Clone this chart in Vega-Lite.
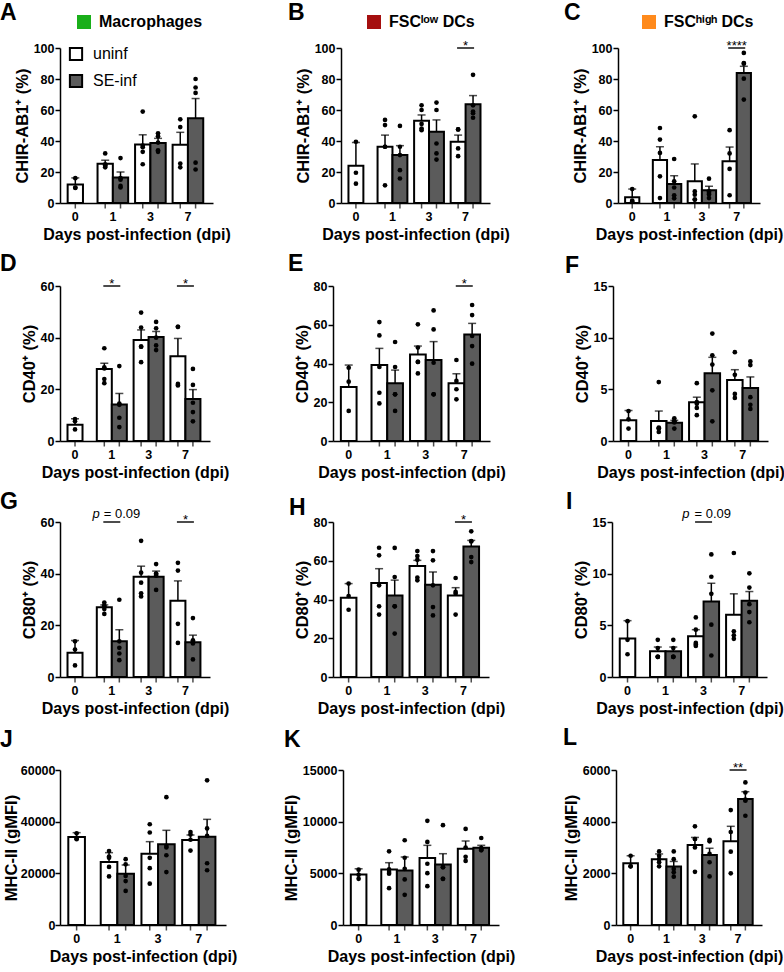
{
"$schema":"https://vega.github.io/schema/vega-lite/v6.json",
"padding":{"left":0,"top":2,"right":0,"bottom":0},
"datasets":{
"sig":[
{"panel":"B","day":"7","value":100,"label":"*"},
{"panel":"C","day":"7","value":100,"label":"****"},
{"panel":"D","day":"1","value":60,"label":"*"},
{"panel":"D","day":"7","value":60,"label":"*"},
{"panel":"E","day":"7","value":80,"label":"*"},
{"panel":"G","day":"1","value":60,"label":"= 0.09","prefix":"p"},
{"panel":"G","day":"7","value":60,"label":"*"},
{"panel":"H","day":"7","value":80,"label":"*"},
{"panel":"I","day":"3","value":15,"label":"= 0.09","prefix":"p"},
{"panel":"L","day":"7","value":6000,"label":"**"}
],
"obs":[
{"panel":"A","day":"0","group":"uninf","value":11.9,"upper":16.2},
{"panel":"A","day":"1","group":"uninf","value":25.3,"upper":27.6},
{"panel":"A","day":"1","group":"SE-inf","value":16.4,"upper":20},
{"panel":"A","day":"3","group":"uninf","value":37.8,"upper":44},
{"panel":"A","day":"3","group":"SE-inf","value":38.7,"upper":41.7},
{"panel":"A","day":"7","group":"uninf","value":37.6,"upper":45.6},
{"panel":"A","day":"7","group":"SE-inf","value":54.6,"upper":67.4},
{"panel":"A","day":"0","group":"uninf","value":16},{"panel":"A","day":"0","group":"uninf","value":10},{"panel":"A","day":"0","group":"uninf","value":9.7},
{"panel":"A","day":"1","group":"uninf","value":32},{"panel":"A","day":"1","group":"uninf","value":25},{"panel":"A","day":"1","group":"uninf","value":24},{"panel":"A","day":"1","group":"uninf","value":24},{"panel":"A","day":"1","group":"uninf","value":23},
{"panel":"A","day":"1","group":"SE-inf","value":29},{"panel":"A","day":"1","group":"SE-inf","value":16},{"panel":"A","day":"1","group":"SE-inf","value":15},{"panel":"A","day":"1","group":"SE-inf","value":11},{"panel":"A","day":"1","group":"SE-inf","value":10},
{"panel":"A","day":"3","group":"uninf","value":59},{"panel":"A","day":"3","group":"uninf","value":37},{"panel":"A","day":"3","group":"uninf","value":36},{"panel":"A","day":"3","group":"uninf","value":33},{"panel":"A","day":"3","group":"uninf","value":25},
{"panel":"A","day":"3","group":"SE-inf","value":45},{"panel":"A","day":"3","group":"SE-inf","value":43},{"panel":"A","day":"3","group":"SE-inf","value":39},{"panel":"A","day":"3","group":"SE-inf","value":34},{"panel":"A","day":"3","group":"SE-inf","value":33},
{"panel":"A","day":"7","group":"uninf","value":54},{"panel":"A","day":"7","group":"uninf","value":49},{"panel":"A","day":"7","group":"uninf","value":25.5},{"panel":"A","day":"7","group":"uninf","value":23},
{"panel":"A","day":"7","group":"SE-inf","value":80},{"panel":"A","day":"7","group":"SE-inf","value":74.5},{"panel":"A","day":"7","group":"SE-inf","value":71},{"panel":"A","day":"7","group":"SE-inf","value":26},{"panel":"A","day":"7","group":"SE-inf","value":21.6},

{"panel":"B","day":"0","group":"uninf","value":24,"upper":39},
{"panel":"B","day":"1","group":"uninf","value":36.3,"upper":43.8},
{"panel":"B","day":"1","group":"SE-inf","value":30.9,"upper":37},
{"panel":"B","day":"3","group":"uninf","value":53.1,"upper":56.8},
{"panel":"B","day":"3","group":"SE-inf","value":46,"upper":53.6},
{"panel":"B","day":"7","group":"uninf","value":39.5,"upper":43.8},
{"panel":"B","day":"7","group":"SE-inf","value":63.7,"upper":69.3},
{"panel":"B","day":"0","group":"uninf","value":39.5},{"panel":"B","day":"0","group":"uninf","value":19.5},{"panel":"B","day":"0","group":"uninf","value":12.5},
{"panel":"B","day":"1","group":"uninf","value":53.6},{"panel":"B","day":"1","group":"uninf","value":50.3},{"panel":"B","day":"1","group":"uninf","value":36.3},{"panel":"B","day":"1","group":"uninf","value":36.3},{"panel":"B","day":"1","group":"uninf","value":11.4},
{"panel":"B","day":"1","group":"SE-inf","value":49.7},{"panel":"B","day":"1","group":"SE-inf","value":36.3},{"panel":"B","day":"1","group":"SE-inf","value":30.9},{"panel":"B","day":"1","group":"SE-inf","value":21.2},{"panel":"B","day":"1","group":"SE-inf","value":15.8},
{"panel":"B","day":"3","group":"uninf","value":63},{"panel":"B","day":"3","group":"uninf","value":60},{"panel":"B","day":"3","group":"uninf","value":51},{"panel":"B","day":"3","group":"uninf","value":48},{"panel":"B","day":"3","group":"uninf","value":47},
{"panel":"B","day":"3","group":"SE-inf","value":64.8},{"panel":"B","day":"3","group":"SE-inf","value":60},{"panel":"B","day":"3","group":"SE-inf","value":38.4},{"panel":"B","day":"3","group":"SE-inf","value":32},{"panel":"B","day":"3","group":"SE-inf","value":28},
{"panel":"B","day":"7","group":"uninf","value":47.5},{"panel":"B","day":"7","group":"uninf","value":47.5},{"panel":"B","day":"7","group":"uninf","value":35.2},{"panel":"B","day":"7","group":"uninf","value":30.2},
{"panel":"B","day":"7","group":"SE-inf","value":82.7},{"panel":"B","day":"7","group":"SE-inf","value":63},{"panel":"B","day":"7","group":"SE-inf","value":59},{"panel":"B","day":"7","group":"SE-inf","value":57.9},{"panel":"B","day":"7","group":"SE-inf","value":55},

{"panel":"C","day":"0","group":"uninf","value":3.7,"upper":9},
{"panel":"C","day":"1","group":"uninf","value":27.7,"upper":36.3},
{"panel":"C","day":"1","group":"SE-inf","value":12.3,"upper":17.6},
{"panel":"C","day":"3","group":"uninf","value":14,"upper":25.2},
{"panel":"C","day":"3","group":"SE-inf","value":8.2,"upper":10.8},
{"panel":"C","day":"7","group":"uninf","value":26.9,"upper":36.1},
{"panel":"C","day":"7","group":"SE-inf","value":83.9,"upper":88.2},
{"panel":"C","day":"0","group":"uninf","value":9},{"panel":"C","day":"0","group":"uninf","value":1.5},{"panel":"C","day":"0","group":"uninf","value":1},
{"panel":"C","day":"1","group":"uninf","value":48.4},{"panel":"C","day":"1","group":"uninf","value":40.9},{"panel":"C","day":"1","group":"uninf","value":32.3},{"panel":"C","day":"1","group":"uninf","value":17.2},{"panel":"C","day":"1","group":"uninf","value":3.2},
{"panel":"C","day":"1","group":"SE-inf","value":28.4},{"panel":"C","day":"1","group":"SE-inf","value":14},{"panel":"C","day":"1","group":"SE-inf","value":10},{"panel":"C","day":"1","group":"SE-inf","value":5},{"panel":"C","day":"1","group":"SE-inf","value":3},
{"panel":"C","day":"3","group":"uninf","value":55.9},{"panel":"C","day":"3","group":"uninf","value":7.5},{"panel":"C","day":"3","group":"uninf","value":5.4},{"panel":"C","day":"3","group":"uninf","value":2.2},{"panel":"C","day":"3","group":"uninf","value":2.2},
{"panel":"C","day":"3","group":"SE-inf","value":15.7},{"panel":"C","day":"3","group":"SE-inf","value":7.5},{"panel":"C","day":"3","group":"SE-inf","value":6.5},{"panel":"C","day":"3","group":"SE-inf","value":5.5},{"panel":"C","day":"3","group":"SE-inf","value":3.2},
{"panel":"C","day":"7","group":"uninf","value":47},{"panel":"C","day":"7","group":"uninf","value":32},{"panel":"C","day":"7","group":"uninf","value":22},{"panel":"C","day":"7","group":"uninf","value":5},
{"panel":"C","day":"7","group":"SE-inf","value":96.8},{"panel":"C","day":"7","group":"SE-inf","value":90.3},{"panel":"C","day":"7","group":"SE-inf","value":89.9},{"panel":"C","day":"7","group":"SE-inf","value":80.2},{"panel":"C","day":"7","group":"SE-inf","value":66.7},

{"panel":"D","day":"0","group":"uninf","value":6.3,"upper":8.6},
{"panel":"D","day":"1","group":"uninf","value":27.9,"upper":30.1},
{"panel":"D","day":"1","group":"SE-inf","value":14.1,"upper":18.4},
{"panel":"D","day":"3","group":"uninf","value":39.1,"upper":43},
{"panel":"D","day":"3","group":"SE-inf","value":40.3,"upper":42.4},
{"panel":"D","day":"7","group":"uninf","value":32.8,"upper":39.7},
{"panel":"D","day":"7","group":"SE-inf","value":16.3,"upper":19.9},
{"panel":"D","day":"0","group":"uninf","value":8.5},{"panel":"D","day":"0","group":"uninf","value":7.6},{"panel":"D","day":"0","group":"uninf","value":4.5},
{"panel":"D","day":"1","group":"uninf","value":35.9},{"panel":"D","day":"1","group":"uninf","value":28.5},{"panel":"D","day":"1","group":"uninf","value":28.1},{"panel":"D","day":"1","group":"uninf","value":24},{"panel":"D","day":"1","group":"uninf","value":22.4},
{"panel":"D","day":"1","group":"SE-inf","value":29},{"panel":"D","day":"1","group":"SE-inf","value":14.5},{"panel":"D","day":"1","group":"SE-inf","value":14},{"panel":"D","day":"1","group":"SE-inf","value":9},{"panel":"D","day":"1","group":"SE-inf","value":5.4},
{"panel":"D","day":"3","group":"uninf","value":49.7},{"panel":"D","day":"3","group":"uninf","value":43.9},{"panel":"D","day":"3","group":"uninf","value":36.5},{"panel":"D","day":"3","group":"uninf","value":36.5},{"panel":"D","day":"3","group":"uninf","value":30.5},
{"panel":"D","day":"3","group":"SE-inf","value":46.1},{"panel":"D","day":"3","group":"SE-inf","value":43.6},{"panel":"D","day":"3","group":"SE-inf","value":40},{"panel":"D","day":"3","group":"SE-inf","value":37},{"panel":"D","day":"3","group":"SE-inf","value":35.2},
{"panel":"D","day":"7","group":"uninf","value":44.2},{"panel":"D","day":"7","group":"uninf","value":44.2},{"panel":"D","day":"7","group":"uninf","value":22.1},{"panel":"D","day":"7","group":"uninf","value":21.5},
{"panel":"D","day":"7","group":"SE-inf","value":27.9},{"panel":"D","day":"7","group":"SE-inf","value":21.7},{"panel":"D","day":"7","group":"SE-inf","value":14.8},{"panel":"D","day":"7","group":"SE-inf","value":11.2},{"panel":"D","day":"7","group":"SE-inf","value":7.6},

{"panel":"E","day":"0","group":"uninf","value":27.9,"upper":39.2},
{"panel":"E","day":"1","group":"uninf","value":39.2,"upper":47.8},
{"panel":"E","day":"1","group":"SE-inf","value":29.8,"upper":36.6},
{"panel":"E","day":"3","group":"uninf","value":44.7,"upper":49},
{"panel":"E","day":"3","group":"SE-inf","value":41.8,"upper":51.3},
{"panel":"E","day":"7","group":"uninf","value":29.8,"upper":34.7},
{"panel":"E","day":"7","group":"SE-inf","value":55,"upper":60.7},
{"panel":"E","day":"0","group":"uninf","value":37.8},{"panel":"E","day":"0","group":"uninf","value":30.6},{"panel":"E","day":"0","group":"uninf","value":15.5},
{"panel":"E","day":"1","group":"uninf","value":61.4},{"panel":"E","day":"1","group":"uninf","value":54.5},{"panel":"E","day":"1","group":"uninf","value":38.2},{"panel":"E","day":"1","group":"uninf","value":24.9},{"panel":"E","day":"1","group":"uninf","value":19.4},
{"panel":"E","day":"1","group":"SE-inf","value":51.1},{"panel":"E","day":"1","group":"SE-inf","value":38.2},{"panel":"E","day":"1","group":"SE-inf","value":24.1},{"panel":"E","day":"1","group":"SE-inf","value":24.1},{"panel":"E","day":"1","group":"SE-inf","value":15.5},
{"panel":"E","day":"3","group":"uninf","value":60.2},{"panel":"E","day":"3","group":"uninf","value":48.2},{"panel":"E","day":"3","group":"uninf","value":40.8},{"panel":"E","day":"3","group":"uninf","value":40.8},{"panel":"E","day":"3","group":"uninf","value":34.9},
{"panel":"E","day":"3","group":"SE-inf","value":67.4},{"panel":"E","day":"3","group":"SE-inf","value":57.6},{"panel":"E","day":"3","group":"SE-inf","value":40.4},{"panel":"E","day":"3","group":"SE-inf","value":24.1},{"panel":"E","day":"3","group":"SE-inf","value":24.1},
{"panel":"E","day":"7","group":"uninf","value":41.8},{"panel":"E","day":"7","group":"uninf","value":31},{"panel":"E","day":"7","group":"uninf","value":26.7},{"panel":"E","day":"7","group":"uninf","value":21.5},
{"panel":"E","day":"7","group":"SE-inf","value":70.2},{"panel":"E","day":"7","group":"SE-inf","value":65},{"panel":"E","day":"7","group":"SE-inf","value":54.2},{"panel":"E","day":"7","group":"SE-inf","value":49},{"panel":"E","day":"7","group":"SE-inf","value":39.9},

{"panel":"F","day":"0","group":"uninf","value":2.0,"upper":2.95},
{"panel":"F","day":"1","group":"uninf","value":1.93,"upper":2.9},
{"panel":"F","day":"1","group":"SE-inf","value":1.77,"upper":2.0},
{"panel":"F","day":"3","group":"uninf","value":3.76,"upper":4.24},
{"panel":"F","day":"3","group":"SE-inf","value":6.55,"upper":8.1},
{"panel":"F","day":"7","group":"uninf","value":5.9,"upper":6.9},
{"panel":"F","day":"7","group":"SE-inf","value":5.14,"upper":6.2},
{"panel":"F","day":"0","group":"uninf","value":2.9},{"panel":"F","day":"0","group":"uninf","value":2.1},{"panel":"F","day":"0","group":"uninf","value":1.2},
{"panel":"F","day":"1","group":"uninf","value":5.7},{"panel":"F","day":"1","group":"uninf","value":1.3},{"panel":"F","day":"1","group":"uninf","value":1.2},{"panel":"F","day":"1","group":"uninf","value":1.2},{"panel":"F","day":"1","group":"uninf","value":0.87},
{"panel":"F","day":"1","group":"SE-inf","value":2.2},{"panel":"F","day":"1","group":"SE-inf","value":1.9},{"panel":"F","day":"1","group":"SE-inf","value":1.9},{"panel":"F","day":"1","group":"SE-inf","value":1.8},{"panel":"F","day":"1","group":"SE-inf","value":1.2},
{"panel":"F","day":"3","group":"uninf","value":5.6},{"panel":"F","day":"3","group":"uninf","value":3.76},{"panel":"F","day":"3","group":"uninf","value":3.6},{"panel":"F","day":"3","group":"uninf","value":3.2},{"panel":"F","day":"3","group":"uninf","value":2.5},
{"panel":"F","day":"3","group":"SE-inf","value":10.4},{"panel":"F","day":"3","group":"SE-inf","value":8.3},{"panel":"F","day":"3","group":"SE-inf","value":7.4},{"panel":"F","day":"3","group":"SE-inf","value":4.9},{"panel":"F","day":"3","group":"SE-inf","value":1.9},
{"panel":"F","day":"7","group":"uninf","value":8.6},{"panel":"F","day":"7","group":"uninf","value":6.4},{"panel":"F","day":"7","group":"uninf","value":4.56},{"panel":"F","day":"7","group":"uninf","value":4.17},
{"panel":"F","day":"7","group":"SE-inf","value":7.7},{"panel":"F","day":"7","group":"SE-inf","value":7.35},{"panel":"F","day":"7","group":"SE-inf","value":4.24},{"panel":"F","day":"7","group":"SE-inf","value":3.5},{"panel":"F","day":"7","group":"SE-inf","value":3.1},

{"panel":"G","day":"0","group":"uninf","value":9.4,"upper":14.1},
{"panel":"G","day":"1","group":"uninf","value":27,"upper":27.9},
{"panel":"G","day":"1","group":"SE-inf","value":13.8,"upper":18.3},
{"panel":"G","day":"3","group":"uninf","value":38.8,"upper":42.9},
{"panel":"G","day":"3","group":"SE-inf","value":38.8,"upper":41},
{"panel":"G","day":"7","group":"uninf","value":29.5,"upper":37.2},
{"panel":"G","day":"7","group":"SE-inf","value":13.5,"upper":16.2},
{"panel":"G","day":"0","group":"uninf","value":13.8},{"panel":"G","day":"0","group":"uninf","value":10.6},{"panel":"G","day":"0","group":"uninf","value":4.5},
{"panel":"G","day":"1","group":"uninf","value":28.8},{"panel":"G","day":"1","group":"uninf","value":27.7},{"panel":"G","day":"1","group":"uninf","value":27.3},{"panel":"G","day":"1","group":"uninf","value":26.3},{"panel":"G","day":"1","group":"uninf","value":24.4},
{"panel":"G","day":"1","group":"SE-inf","value":29.9},{"panel":"G","day":"1","group":"SE-inf","value":13.8},{"panel":"G","day":"1","group":"SE-inf","value":11.3},{"panel":"G","day":"1","group":"SE-inf","value":9.1},{"panel":"G","day":"1","group":"SE-inf","value":6.5},
{"panel":"G","day":"3","group":"uninf","value":52.7},{"panel":"G","day":"3","group":"uninf","value":40.4},{"panel":"G","day":"3","group":"uninf","value":36.5},{"panel":"G","day":"3","group":"uninf","value":32.4},{"panel":"G","day":"3","group":"uninf","value":31.2},
{"panel":"G","day":"3","group":"SE-inf","value":43.7},{"panel":"G","day":"3","group":"SE-inf","value":40},{"panel":"G","day":"3","group":"SE-inf","value":39.9},{"panel":"G","day":"3","group":"SE-inf","value":39.2},{"panel":"G","day":"3","group":"SE-inf","value":33.7},
{"panel":"G","day":"7","group":"uninf","value":44.2},{"panel":"G","day":"7","group":"uninf","value":41.2},{"panel":"G","day":"7","group":"uninf","value":20.6},{"panel":"G","day":"7","group":"uninf","value":13.2},
{"panel":"G","day":"7","group":"SE-inf","value":22.8},{"panel":"G","day":"7","group":"SE-inf","value":14.2},{"panel":"G","day":"7","group":"SE-inf","value":13.6},{"panel":"G","day":"7","group":"SE-inf","value":13},{"panel":"G","day":"7","group":"SE-inf","value":6.8},

{"panel":"H","day":"0","group":"uninf","value":40.9,"upper":48.2},
{"panel":"H","day":"1","group":"uninf","value":48.5,"upper":55.9},
{"panel":"H","day":"1","group":"SE-inf","value":42.1,"upper":50},
{"panel":"H","day":"3","group":"uninf","value":57.3,"upper":60.2},
{"panel":"H","day":"3","group":"SE-inf","value":47.6,"upper":54.2},
{"panel":"H","day":"7","group":"uninf","value":42.1,"upper":46.1},
{"panel":"H","day":"7","group":"SE-inf","value":67.4,"upper":70.5},
{"panel":"H","day":"0","group":"uninf","value":48.2},{"panel":"H","day":"0","group":"uninf","value":41.8},{"panel":"H","day":"0","group":"uninf","value":34.7},
{"panel":"H","day":"1","group":"uninf","value":66.7},{"panel":"H","day":"1","group":"uninf","value":62.8},{"panel":"H","day":"1","group":"uninf","value":47.3},{"panel":"H","day":"1","group":"uninf","value":36.5},{"panel":"H","day":"1","group":"uninf","value":32.2},
{"panel":"H","day":"1","group":"SE-inf","value":66.6},{"panel":"H","day":"1","group":"SE-inf","value":51.6},{"panel":"H","day":"1","group":"SE-inf","value":36.5},{"panel":"H","day":"1","group":"SE-inf","value":36.5},{"panel":"H","day":"1","group":"SE-inf","value":22.4},
{"panel":"H","day":"3","group":"uninf","value":65},{"panel":"H","day":"3","group":"uninf","value":62.4},{"panel":"H","day":"3","group":"uninf","value":60.5},{"panel":"H","day":"3","group":"uninf","value":51.3},{"panel":"H","day":"3","group":"uninf","value":49.9},
{"panel":"H","day":"3","group":"SE-inf","value":65},{"panel":"H","day":"3","group":"SE-inf","value":60.2},{"panel":"H","day":"3","group":"SE-inf","value":47.3},{"panel":"H","day":"3","group":"SE-inf","value":36.1},{"panel":"H","day":"3","group":"SE-inf","value":31.8},
{"panel":"H","day":"7","group":"uninf","value":51.1},{"panel":"H","day":"7","group":"uninf","value":43.9},{"panel":"H","day":"7","group":"uninf","value":43},{"panel":"H","day":"7","group":"uninf","value":32.2},
{"panel":"H","day":"7","group":"SE-inf","value":75.2},{"panel":"H","day":"7","group":"SE-inf","value":70.2},{"panel":"H","day":"7","group":"SE-inf","value":70},{"panel":"H","day":"7","group":"SE-inf","value":61.9},{"panel":"H","day":"7","group":"SE-inf","value":59.3},

{"panel":"I","day":"0","group":"uninf","value":3.72,"upper":5.45},
{"panel":"I","day":"1","group":"uninf","value":2.5,"upper":2.9},
{"panel":"I","day":"1","group":"SE-inf","value":2.5,"upper":2.9},
{"panel":"I","day":"3","group":"uninf","value":3.94,"upper":4.58},
{"panel":"I","day":"3","group":"SE-inf","value":7.3,"upper":9.07},
{"panel":"I","day":"7","group":"uninf","value":6.03,"upper":8.05},
{"panel":"I","day":"7","group":"SE-inf","value":7.37,"upper":8.27},
{"panel":"I","day":"0","group":"uninf","value":5.4},{"panel":"I","day":"0","group":"uninf","value":3.6},{"panel":"I","day":"0","group":"uninf","value":2.2},
{"panel":"I","day":"1","group":"uninf","value":3.6},{"panel":"I","day":"1","group":"uninf","value":2.8},{"panel":"I","day":"1","group":"uninf","value":1.95},{"panel":"I","day":"1","group":"uninf","value":1.95},{"panel":"I","day":"1","group":"uninf","value":1.95},
{"panel":"I","day":"1","group":"SE-inf","value":3.6},{"panel":"I","day":"1","group":"SE-inf","value":2.8},{"panel":"I","day":"1","group":"SE-inf","value":1.95},{"panel":"I","day":"1","group":"SE-inf","value":1.95},{"panel":"I","day":"1","group":"SE-inf","value":1.95},
{"panel":"I","day":"3","group":"uninf","value":5.77},{"panel":"I","day":"3","group":"uninf","value":4.58},{"panel":"I","day":"3","group":"uninf","value":3.3},{"panel":"I","day":"3","group":"uninf","value":3.14},{"panel":"I","day":"3","group":"uninf","value":3.0},
{"panel":"I","day":"3","group":"SE-inf","value":11.86},{"panel":"I","day":"3","group":"SE-inf","value":9.7},{"panel":"I","day":"3","group":"SE-inf","value":8.05},{"panel":"I","day":"3","group":"SE-inf","value":5.06},{"panel":"I","day":"3","group":"SE-inf","value":2.08},
{"panel":"I","day":"7","group":"uninf","value":12},{"panel":"I","day":"7","group":"uninf","value":4.42},{"panel":"I","day":"7","group":"uninf","value":4.04},{"panel":"I","day":"7","group":"uninf","value":3.69},
{"panel":"I","day":"7","group":"SE-inf","value":10.03},{"panel":"I","day":"7","group":"SE-inf","value":8.65},{"panel":"I","day":"7","group":"SE-inf","value":7.05},{"panel":"I","day":"7","group":"SE-inf","value":6.28},{"panel":"I","day":"7","group":"SE-inf","value":5.3},

{"panel":"J","day":"0","group":"uninf","value":34070,"upper":35740},
{"panel":"J","day":"1","group":"uninf","value":24390,"upper":28000},
{"panel":"J","day":"1","group":"SE-inf","value":19870,"upper":23230},
{"panel":"J","day":"3","group":"uninf","value":27610,"upper":32260},
{"panel":"J","day":"3","group":"SE-inf","value":31230,"upper":36650},
{"panel":"J","day":"7","group":"uninf","value":32900,"upper":34840},
{"panel":"J","day":"7","group":"SE-inf","value":34190,"upper":40900},
{"panel":"J","day":"0","group":"uninf","value":35500},{"panel":"J","day":"0","group":"uninf","value":33500},{"panel":"J","day":"0","group":"uninf","value":33200},
{"panel":"J","day":"1","group":"uninf","value":28600},{"panel":"J","day":"1","group":"uninf","value":26500},{"panel":"J","day":"1","group":"uninf","value":26000},{"panel":"J","day":"1","group":"uninf","value":22500},{"panel":"J","day":"1","group":"uninf","value":18800},
{"panel":"J","day":"1","group":"SE-inf","value":25500},{"panel":"J","day":"1","group":"SE-inf","value":23500},{"panel":"J","day":"1","group":"SE-inf","value":19000},{"panel":"J","day":"1","group":"SE-inf","value":17000},{"panel":"J","day":"1","group":"SE-inf","value":13200},
{"panel":"J","day":"3","group":"uninf","value":39000},{"panel":"J","day":"3","group":"uninf","value":35800},{"panel":"J","day":"3","group":"uninf","value":26000},{"panel":"J","day":"3","group":"uninf","value":22000},{"panel":"J","day":"3","group":"uninf","value":16000},
{"panel":"J","day":"3","group":"SE-inf","value":49500},{"panel":"J","day":"3","group":"SE-inf","value":30600},{"panel":"J","day":"3","group":"SE-inf","value":30000},{"panel":"J","day":"3","group":"SE-inf","value":27000},{"panel":"J","day":"3","group":"SE-inf","value":20500},
{"panel":"J","day":"7","group":"uninf","value":36000},{"panel":"J","day":"7","group":"uninf","value":35000},{"panel":"J","day":"7","group":"uninf","value":33000},{"panel":"J","day":"7","group":"uninf","value":28800},
{"panel":"J","day":"7","group":"SE-inf","value":56000},{"panel":"J","day":"7","group":"SE-inf","value":37400},{"panel":"J","day":"7","group":"SE-inf","value":34500},{"panel":"J","day":"7","group":"SE-inf","value":23900},{"panel":"J","day":"7","group":"SE-inf","value":21200},

{"panel":"K","day":"0","group":"uninf","value":4890,"upper":5440},
{"panel":"K","day":"1","group":"uninf","value":5380,"upper":6030},
{"panel":"K","day":"1","group":"SE-inf","value":5280,"upper":6580},
{"panel":"K","day":"3","group":"uninf","value":6480,"upper":7710},
{"panel":"K","day":"3","group":"SE-inf","value":5860,"upper":6900},
{"panel":"K","day":"7","group":"uninf","value":7390,"upper":8130},
{"panel":"K","day":"7","group":"SE-inf","value":7480,"upper":7710},
{"panel":"K","day":"0","group":"uninf","value":5350},{"panel":"K","day":"0","group":"uninf","value":4860},{"panel":"K","day":"0","group":"uninf","value":4470},
{"panel":"K","day":"1","group":"uninf","value":7130},{"panel":"K","day":"1","group":"uninf","value":5380},{"panel":"K","day":"1","group":"uninf","value":5120},{"panel":"K","day":"1","group":"uninf","value":4960},{"panel":"K","day":"1","group":"uninf","value":3560},
{"panel":"K","day":"1","group":"SE-inf","value":8200},{"panel":"K","day":"1","group":"SE-inf","value":6510},{"panel":"K","day":"1","group":"SE-inf","value":5440},{"panel":"K","day":"1","group":"SE-inf","value":4410},{"panel":"K","day":"1","group":"SE-inf","value":2920},
{"panel":"K","day":"3","group":"uninf","value":10080},{"panel":"K","day":"3","group":"uninf","value":8040},{"panel":"K","day":"3","group":"uninf","value":5930},{"panel":"K","day":"3","group":"uninf","value":5020},{"panel":"K","day":"3","group":"uninf","value":3760},
{"panel":"K","day":"3","group":"SE-inf","value":9660},{"panel":"K","day":"3","group":"SE-inf","value":5600},{"panel":"K","day":"3","group":"SE-inf","value":5600},{"panel":"K","day":"3","group":"SE-inf","value":4470},{"panel":"K","day":"3","group":"SE-inf","value":4470},
{"panel":"K","day":"7","group":"uninf","value":9300},{"panel":"K","day":"7","group":"uninf","value":7500},{"panel":"K","day":"7","group":"uninf","value":6600},{"panel":"K","day":"7","group":"uninf","value":6200},
{"panel":"K","day":"7","group":"SE-inf","value":8420},{"panel":"K","day":"7","group":"SE-inf","value":7450},{"panel":"K","day":"7","group":"SE-inf","value":7390},{"panel":"K","day":"7","group":"SE-inf","value":7290},{"panel":"K","day":"7","group":"SE-inf","value":7230},

{"panel":"L","day":"0","group":"uninf","value":2390,"upper":2680},
{"panel":"L","day":"1","group":"uninf","value":2550,"upper":2750},
{"panel":"L","day":"1","group":"SE-inf","value":2260,"upper":2460},
{"panel":"L","day":"3","group":"uninf","value":3100,"upper":3390},
{"panel":"L","day":"3","group":"SE-inf","value":2710,"upper":2970},
{"panel":"L","day":"7","group":"uninf","value":3240,"upper":3820},
{"panel":"L","day":"7","group":"SE-inf","value":4880,"upper":5160},
{"panel":"L","day":"0","group":"uninf","value":2680},{"panel":"L","day":"0","group":"uninf","value":2270},{"panel":"L","day":"0","group":"uninf","value":2270},
{"panel":"L","day":"1","group":"uninf","value":2850},{"panel":"L","day":"1","group":"uninf","value":2680},{"panel":"L","day":"1","group":"uninf","value":2550},{"panel":"L","day":"1","group":"uninf","value":2430},{"panel":"L","day":"1","group":"uninf","value":2270},
{"panel":"L","day":"1","group":"SE-inf","value":2850},{"panel":"L","day":"1","group":"SE-inf","value":2550},{"panel":"L","day":"1","group":"SE-inf","value":2170},{"panel":"L","day":"1","group":"SE-inf","value":2040},{"panel":"L","day":"1","group":"SE-inf","value":1870},
{"panel":"L","day":"3","group":"uninf","value":3820},{"panel":"L","day":"3","group":"uninf","value":3330},{"panel":"L","day":"3","group":"uninf","value":3330},{"panel":"L","day":"3","group":"uninf","value":3000},{"panel":"L","day":"3","group":"uninf","value":2060},
{"panel":"L","day":"3","group":"SE-inf","value":3300},{"panel":"L","day":"3","group":"SE-inf","value":3240},{"panel":"L","day":"3","group":"SE-inf","value":2750},{"panel":"L","day":"3","group":"SE-inf","value":2430},{"panel":"L","day":"3","group":"SE-inf","value":1880},
{"panel":"L","day":"7","group":"uninf","value":4450},{"panel":"L","day":"7","group":"uninf","value":3600},{"panel":"L","day":"7","group":"uninf","value":2840},{"panel":"L","day":"7","group":"uninf","value":2000},
{"panel":"L","day":"7","group":"SE-inf","value":5520},{"panel":"L","day":"7","group":"SE-inf","value":5130},{"panel":"L","day":"7","group":"SE-inf","value":4850},{"panel":"L","day":"7","group":"SE-inf","value":4810},{"panel":"L","day":"7","group":"SE-inf","value":4230}
]},
"resolve":{"scale":{"fill":"independent","opacity":"independent","xOffset":"independent"},"legend":{"fill":"independent","opacity":"independent"}},
"columns":1,
"align":"none",
"spacing":10,
"concat":[
{"hconcat":[
{"width":153,"height":155,"title":{"text":"A","dx":-60,"offset":-11},"data":{"name":"obs"},"transform":[{"filter":"datum.panel=='A'"}],
"encoding":{"x":{"field":"day","type":"nominal","scale":{"domain":["0","1","3","7"],"paddingInner":0.184,"paddingOuter":0.13,"align":0},"axis":{"title":"Days post-infection (dpi)"}},
"y":{"field":"value","type":"quantitative","stack":null,"scale":{"domain":[0,100],"nice":false},"axis":{"values":[0,20,40,60,80,100],"title":"CHIR-AB1⁺ (%)"}}},
"layer":[
{"transform":[{"filter":"datum.day!='0'"}],"encoding":{"xOffset":{"field":"group","type":"nominal","scale":{"domain":["uninf","SE-inf"],"paddingInner":0,"paddingOuter":0}}},"layer":[
{"transform":[{"filter":"isValid(datum.upper)"}],"mark":{"type":"bar","stroke":"black","strokeWidth":2},"encoding":{"fill":{"field":"group","type":"nominal","scale":{"domain":["uninf","SE-inf"],"range":["white","#5b5b5b"]},"legend":{"orient":"none","legendX":8,"legendY":-2,"title":null,"symbolType":"square","symbolSize":150,"symbolStrokeColor":"black","symbolStrokeWidth":2,"labelFontSize":16,"labelFontWeight":"normal","labelFont":"Liberation Sans","labelColor":"black","labelOffset":9,"rowPadding":5,"padding":0}},
"opacity":{"datum":"Macrophages","scale":{"range":[1,1]},"legend":{"orient":"none","legendX":16,"legendY":-34,"title":null,"symbolType":"square","symbolSize":196,"symbolFillColor":"#1aaf1a","symbolStrokeColor":"#1aaf1a","symbolStrokeWidth":0,"symbolOpacity":1,"labelFontSize":16,"labelFontWeight":"bold","labelFont":"Liberation Sans","labelColor":"black","labelOffset":7,"padding":0}}}},
{"transform":[{"filter":"isValid(datum.upper)"}],"mark":{"type":"tick","orient":"vertical","color":"black","size":5,"thickness":1.5,"yOffset":3},"encoding":{"y":{"datum":0}}},
{"transform":[{"filter":"isValid(datum.upper)"}],"mark":{"type":"rule","color":"black","strokeWidth":1.5},"encoding":{"y2":{"field":"upper"}}},
{"transform":[{"filter":"isValid(datum.upper)"}],"mark":{"type":"tick","color":"black","size":8,"thickness":1.5},"encoding":{"y":{"field":"upper","type":"quantitative","scale":{"domain":[0,100],"nice":false}}}},
{"transform":[{"filter":"!isValid(datum.upper)"}],"mark":{"type":"circle","color":"black","size":22,"opacity":1}}]},
{"transform":[{"filter":"datum.day=='0'"}],"layer":[
{"transform":[{"filter":"isValid(datum.upper)"}],"mark":{"type":"bar","fill":"white","stroke":"black","strokeWidth":2,"width":{"band":0.5}}},
{"transform":[{"filter":"isValid(datum.upper)"}],"mark":{"type":"tick","orient":"vertical","color":"black","size":5,"thickness":1.5,"yOffset":3},"encoding":{"y":{"datum":0}}},
{"transform":[{"filter":"isValid(datum.upper)"}],"mark":{"type":"rule","color":"black","strokeWidth":1.5},"encoding":{"y2":{"field":"upper"}}},
{"transform":[{"filter":"isValid(datum.upper)"}],"mark":{"type":"tick","color":"black","size":8,"thickness":1.5},"encoding":{"y":{"field":"upper","type":"quantitative","scale":{"domain":[0,100],"nice":false}}}},
{"transform":[{"filter":"!isValid(datum.upper)"}],"mark":{"type":"circle","color":"black","size":22,"opacity":1}}]}
]},
{"width":149,"height":155,"title":{"text":"B","dx":-53,"offset":-11},"data":{"name":"obs"},"transform":[{"filter":"datum.panel=='B'"}],
"encoding":{"x":{"field":"day","type":"nominal","scale":{"domain":["0","1","3","7"],"paddingInner":0.184,"paddingOuter":0.13,"align":0},"axis":{"title":"Days post-infection (dpi)"}},
"y":{"field":"value","type":"quantitative","stack":null,"scale":{"domain":[0,100],"nice":false},"axis":{"values":[0,20,40,60,80,100],"title":"CHIR-AB1⁺ (%)"}}},
"layer":[
{"transform":[{"filter":"datum.day!='0'"}],"encoding":{"xOffset":{"field":"group","type":"nominal","scale":{"domain":["uninf","SE-inf"],"paddingInner":0,"paddingOuter":0}}},"layer":[
{"transform":[{"filter":"isValid(datum.upper)"}],"mark":{"type":"bar","stroke":"black","strokeWidth":2},"encoding":{"fill":{"field":"group","type":"nominal","scale":{"domain":["uninf","SE-inf"],"range":["white","#5b5b5b"]},"legend":null},
"opacity":{"datum":"FSCˡᵒʷ DCs","scale":{"range":[1,1]},"legend":{"orient":"none","legendX":25,"legendY":-34,"title":null,"symbolType":"square","symbolSize":196,"symbolFillColor":"#a50f0f","symbolStrokeColor":"#a50f0f","symbolStrokeWidth":0,"symbolOpacity":1,"labelFontSize":16,"labelFontWeight":"bold","labelFont":"Liberation Sans","labelColor":"black","labelOffset":7,"padding":0}}}},
{"transform":[{"filter":"isValid(datum.upper)"}],"mark":{"type":"tick","orient":"vertical","color":"black","size":5,"thickness":1.5,"yOffset":3},"encoding":{"y":{"datum":0}}},
{"transform":[{"filter":"isValid(datum.upper)"}],"mark":{"type":"rule","color":"black","strokeWidth":1.5},"encoding":{"y2":{"field":"upper"}}},
{"transform":[{"filter":"isValid(datum.upper)"}],"mark":{"type":"tick","color":"black","size":8,"thickness":1.5},"encoding":{"y":{"field":"upper","type":"quantitative","scale":{"domain":[0,100],"nice":false}}}},
{"transform":[{"filter":"!isValid(datum.upper)"}],"mark":{"type":"circle","color":"black","size":22,"opacity":1}}]},
{"transform":[{"filter":"datum.day=='0'"}],"layer":[
{"transform":[{"filter":"isValid(datum.upper)"}],"mark":{"type":"bar","fill":"white","stroke":"black","strokeWidth":2,"width":{"band":0.5}}},
{"transform":[{"filter":"isValid(datum.upper)"}],"mark":{"type":"tick","orient":"vertical","color":"black","size":5,"thickness":1.5,"yOffset":3},"encoding":{"y":{"datum":0}}},
{"transform":[{"filter":"isValid(datum.upper)"}],"mark":{"type":"rule","color":"black","strokeWidth":1.5},"encoding":{"y2":{"field":"upper"}}},
{"transform":[{"filter":"isValid(datum.upper)"}],"mark":{"type":"tick","color":"black","size":8,"thickness":1.5},"encoding":{"y":{"field":"upper","type":"quantitative","scale":{"domain":[0,100],"nice":false}}}},
{"transform":[{"filter":"!isValid(datum.upper)"}],"mark":{"type":"circle","color":"black","size":22,"opacity":1}}]},
{"data":{"name":"sig"},"transform":[{"filter":"datum.panel=='B'"}],"mark":{"type":"tick","color":"black","size":17,"thickness":2}},
{"data":{"name":"sig"},"transform":[{"filter":"datum.panel=='B' && !isValid(datum.prefix)"}],"mark":{"type":"text","baseline":"alphabetic","dy":2,"fontSize":13},"encoding":{"text":{"field":"label"}}}
]},
{"width":142,"height":155,"title":{"text":"C","dx":-54,"offset":-11},"data":{"name":"obs"},"transform":[{"filter":"datum.panel=='C'"}],
"encoding":{"x":{"field":"day","type":"nominal","scale":{"domain":["0","1","3","7"],"paddingInner":0.184,"paddingOuter":0.13,"align":0},"axis":{"title":"Days post-infection (dpi)"}},
"y":{"field":"value","type":"quantitative","stack":null,"scale":{"domain":[0,100],"nice":false},"axis":{"values":[0,20,40,60,80,100],"title":"CHIR-AB1⁺ (%)"}}},
"layer":[
{"transform":[{"filter":"datum.day!='0'"}],"encoding":{"xOffset":{"field":"group","type":"nominal","scale":{"domain":["uninf","SE-inf"],"paddingInner":0,"paddingOuter":0}}},"layer":[
{"transform":[{"filter":"isValid(datum.upper)"}],"mark":{"type":"bar","stroke":"black","strokeWidth":2},"encoding":{"fill":{"field":"group","type":"nominal","scale":{"domain":["uninf","SE-inf"],"range":["white","#5b5b5b"]},"legend":null},
"opacity":{"datum":"FSCʰⁱᵍʰ DCs","scale":{"range":[1,1]},"legend":{"orient":"none","legendX":23,"legendY":-34,"title":null,"symbolType":"square","symbolSize":196,"symbolFillColor":"#ff8a1c","symbolStrokeColor":"#ff8a1c","symbolStrokeWidth":0,"symbolOpacity":1,"labelFontSize":16,"labelFontWeight":"bold","labelFont":"Liberation Sans","labelColor":"black","labelOffset":7,"padding":0}}}},
{"transform":[{"filter":"isValid(datum.upper)"}],"mark":{"type":"tick","orient":"vertical","color":"black","size":5,"thickness":1.5,"yOffset":3},"encoding":{"y":{"datum":0}}},
{"transform":[{"filter":"isValid(datum.upper)"}],"mark":{"type":"rule","color":"black","strokeWidth":1.5},"encoding":{"y2":{"field":"upper"}}},
{"transform":[{"filter":"isValid(datum.upper)"}],"mark":{"type":"tick","color":"black","size":8,"thickness":1.5},"encoding":{"y":{"field":"upper","type":"quantitative","scale":{"domain":[0,100],"nice":false}}}},
{"transform":[{"filter":"!isValid(datum.upper)"}],"mark":{"type":"circle","color":"black","size":22,"opacity":1}}]},
{"transform":[{"filter":"datum.day=='0'"}],"layer":[
{"transform":[{"filter":"isValid(datum.upper)"}],"mark":{"type":"bar","fill":"white","stroke":"black","strokeWidth":2,"width":{"band":0.5}}},
{"transform":[{"filter":"isValid(datum.upper)"}],"mark":{"type":"tick","orient":"vertical","color":"black","size":5,"thickness":1.5,"yOffset":3},"encoding":{"y":{"datum":0}}},
{"transform":[{"filter":"isValid(datum.upper)"}],"mark":{"type":"rule","color":"black","strokeWidth":1.5},"encoding":{"y2":{"field":"upper"}}},
{"transform":[{"filter":"isValid(datum.upper)"}],"mark":{"type":"tick","color":"black","size":8,"thickness":1.5},"encoding":{"y":{"field":"upper","type":"quantitative","scale":{"domain":[0,100],"nice":false}}}},
{"transform":[{"filter":"!isValid(datum.upper)"}],"mark":{"type":"circle","color":"black","size":22,"opacity":1}}]},
{"data":{"name":"sig"},"transform":[{"filter":"datum.panel=='C'"}],"mark":{"type":"tick","color":"black","size":17,"thickness":2}},
{"data":{"name":"sig"},"transform":[{"filter":"datum.panel=='C' && !isValid(datum.prefix)"}],"mark":{"type":"text","baseline":"alphabetic","dy":2,"fontSize":13},"encoding":{"text":{"field":"label"}}}
]}
],"spacing":128,"bounds":"flush","resolve":{"scale":{"fill":"independent","opacity":"independent","xOffset":"independent"},"legend":{"fill":"independent","opacity":"independent"}}},

{"hconcat":[
{"width":150,"height":155,"title":{"text":"D","dx":-60,"offset":2},"data":{"name":"obs"},"transform":[{"filter":"datum.panel=='D'"}],
"encoding":{"x":{"field":"day","type":"nominal","scale":{"domain":["0","1","3","7"],"paddingInner":0.184,"paddingOuter":0.13,"align":0},"axis":{"title":"Days post-infection (dpi)"}},
"y":{"field":"value","type":"quantitative","stack":null,"scale":{"domain":[0,60],"nice":false},"axis":{"values":[0,20,40,60],"title":"CD40⁺ (%)"}}},
"layer":[
{"transform":[{"filter":"datum.day!='0'"}],"encoding":{"xOffset":{"field":"group","type":"nominal","scale":{"domain":["uninf","SE-inf"],"paddingInner":0,"paddingOuter":0}}},"layer":[
{"transform":[{"filter":"isValid(datum.upper)"}],"mark":{"type":"bar","stroke":"black","strokeWidth":2},"encoding":{"fill":{"field":"group","type":"nominal","scale":{"domain":["uninf","SE-inf"],"range":["white","#5b5b5b"]},"legend":null}}},
{"transform":[{"filter":"isValid(datum.upper)"}],"mark":{"type":"tick","orient":"vertical","color":"black","size":5,"thickness":1.5,"yOffset":3},"encoding":{"y":{"datum":0}}},
{"transform":[{"filter":"isValid(datum.upper)"}],"mark":{"type":"rule","color":"black","strokeWidth":1.5},"encoding":{"y2":{"field":"upper"}}},
{"transform":[{"filter":"isValid(datum.upper)"}],"mark":{"type":"tick","color":"black","size":8,"thickness":1.5},"encoding":{"y":{"field":"upper","type":"quantitative","scale":{"domain":[0,60],"nice":false}}}},
{"transform":[{"filter":"!isValid(datum.upper)"}],"mark":{"type":"circle","color":"black","size":22,"opacity":1}}]},
{"transform":[{"filter":"datum.day=='0'"}],"layer":[
{"transform":[{"filter":"isValid(datum.upper)"}],"mark":{"type":"bar","fill":"white","stroke":"black","strokeWidth":2,"width":{"band":0.5}}},
{"transform":[{"filter":"isValid(datum.upper)"}],"mark":{"type":"tick","orient":"vertical","color":"black","size":5,"thickness":1.5,"yOffset":3},"encoding":{"y":{"datum":0}}},
{"transform":[{"filter":"isValid(datum.upper)"}],"mark":{"type":"rule","color":"black","strokeWidth":1.5},"encoding":{"y2":{"field":"upper"}}},
{"transform":[{"filter":"isValid(datum.upper)"}],"mark":{"type":"tick","color":"black","size":8,"thickness":1.5},"encoding":{"y":{"field":"upper","type":"quantitative","scale":{"domain":[0,60],"nice":false}}}},
{"transform":[{"filter":"!isValid(datum.upper)"}],"mark":{"type":"circle","color":"black","size":22,"opacity":1}}]},
{"data":{"name":"sig"},"transform":[{"filter":"datum.panel=='D'"}],"mark":{"type":"tick","color":"black","size":17,"thickness":2}},
{"data":{"name":"sig"},"transform":[{"filter":"datum.panel=='D' && !isValid(datum.prefix)"}],"mark":{"type":"text","baseline":"alphabetic","dy":2,"fontSize":13},"encoding":{"text":{"field":"label"}}}
]},
{"width":157,"height":155,"title":{"text":"E","dx":-45,"offset":2},"data":{"name":"obs"},"transform":[{"filter":"datum.panel=='E'"}],
"encoding":{"x":{"field":"day","type":"nominal","scale":{"domain":["0","1","3","7"],"paddingInner":0.184,"paddingOuter":0.13,"align":0},"axis":{"title":"Days post-infection (dpi)"}},
"y":{"field":"value","type":"quantitative","stack":null,"scale":{"domain":[0,80],"nice":false},"axis":{"values":[0,20,40,60,80],"title":"CD40⁺ (%)"}}},
"layer":[
{"transform":[{"filter":"datum.day!='0'"}],"encoding":{"xOffset":{"field":"group","type":"nominal","scale":{"domain":["uninf","SE-inf"],"paddingInner":0,"paddingOuter":0}}},"layer":[
{"transform":[{"filter":"isValid(datum.upper)"}],"mark":{"type":"bar","stroke":"black","strokeWidth":2},"encoding":{"fill":{"field":"group","type":"nominal","scale":{"domain":["uninf","SE-inf"],"range":["white","#5b5b5b"]},"legend":null}}},
{"transform":[{"filter":"isValid(datum.upper)"}],"mark":{"type":"tick","orient":"vertical","color":"black","size":5,"thickness":1.5,"yOffset":3},"encoding":{"y":{"datum":0}}},
{"transform":[{"filter":"isValid(datum.upper)"}],"mark":{"type":"rule","color":"black","strokeWidth":1.5},"encoding":{"y2":{"field":"upper"}}},
{"transform":[{"filter":"isValid(datum.upper)"}],"mark":{"type":"tick","color":"black","size":8,"thickness":1.5},"encoding":{"y":{"field":"upper","type":"quantitative","scale":{"domain":[0,80],"nice":false}}}},
{"transform":[{"filter":"!isValid(datum.upper)"}],"mark":{"type":"circle","color":"black","size":22,"opacity":1}}]},
{"transform":[{"filter":"datum.day=='0'"}],"layer":[
{"transform":[{"filter":"isValid(datum.upper)"}],"mark":{"type":"bar","fill":"white","stroke":"black","strokeWidth":2,"width":{"band":0.5}}},
{"transform":[{"filter":"isValid(datum.upper)"}],"mark":{"type":"tick","orient":"vertical","color":"black","size":5,"thickness":1.5,"yOffset":3},"encoding":{"y":{"datum":0}}},
{"transform":[{"filter":"isValid(datum.upper)"}],"mark":{"type":"rule","color":"black","strokeWidth":1.5},"encoding":{"y2":{"field":"upper"}}},
{"transform":[{"filter":"isValid(datum.upper)"}],"mark":{"type":"tick","color":"black","size":8,"thickness":1.5},"encoding":{"y":{"field":"upper","type":"quantitative","scale":{"domain":[0,80],"nice":false}}}},
{"transform":[{"filter":"!isValid(datum.upper)"}],"mark":{"type":"circle","color":"black","size":22,"opacity":1}}]},
{"data":{"name":"sig"},"transform":[{"filter":"datum.panel=='E'"}],"mark":{"type":"tick","color":"black","size":17,"thickness":2}},
{"data":{"name":"sig"},"transform":[{"filter":"datum.panel=='E' && !isValid(datum.prefix)"}],"mark":{"type":"text","baseline":"alphabetic","dy":2,"fontSize":13},"encoding":{"text":{"field":"label"}}}
]},
{"width":155,"height":155,"title":{"text":"F","dx":-48,"offset":2},"data":{"name":"obs"},"transform":[{"filter":"datum.panel=='F'"}],
"encoding":{"x":{"field":"day","type":"nominal","scale":{"domain":["0","1","3","7"],"paddingInner":0.184,"paddingOuter":0.13,"align":0},"axis":{"title":"Days post-infection (dpi)"}},
"y":{"field":"value","type":"quantitative","stack":null,"scale":{"domain":[0,15],"nice":false},"axis":{"values":[0,5,10,15],"title":"CD40⁺ (%)"}}},
"layer":[
{"transform":[{"filter":"datum.day!='0'"}],"encoding":{"xOffset":{"field":"group","type":"nominal","scale":{"domain":["uninf","SE-inf"],"paddingInner":0,"paddingOuter":0}}},"layer":[
{"transform":[{"filter":"isValid(datum.upper)"}],"mark":{"type":"bar","stroke":"black","strokeWidth":2},"encoding":{"fill":{"field":"group","type":"nominal","scale":{"domain":["uninf","SE-inf"],"range":["white","#5b5b5b"]},"legend":null}}},
{"transform":[{"filter":"isValid(datum.upper)"}],"mark":{"type":"tick","orient":"vertical","color":"black","size":5,"thickness":1.5,"yOffset":3},"encoding":{"y":{"datum":0}}},
{"transform":[{"filter":"isValid(datum.upper)"}],"mark":{"type":"rule","color":"black","strokeWidth":1.5},"encoding":{"y2":{"field":"upper"}}},
{"transform":[{"filter":"isValid(datum.upper)"}],"mark":{"type":"tick","color":"black","size":8,"thickness":1.5},"encoding":{"y":{"field":"upper","type":"quantitative","scale":{"domain":[0,15],"nice":false}}}},
{"transform":[{"filter":"!isValid(datum.upper)"}],"mark":{"type":"circle","color":"black","size":22,"opacity":1}}]},
{"transform":[{"filter":"datum.day=='0'"}],"layer":[
{"transform":[{"filter":"isValid(datum.upper)"}],"mark":{"type":"bar","fill":"white","stroke":"black","strokeWidth":2,"width":{"band":0.5}}},
{"transform":[{"filter":"isValid(datum.upper)"}],"mark":{"type":"tick","orient":"vertical","color":"black","size":5,"thickness":1.5,"yOffset":3},"encoding":{"y":{"datum":0}}},
{"transform":[{"filter":"isValid(datum.upper)"}],"mark":{"type":"rule","color":"black","strokeWidth":1.5},"encoding":{"y2":{"field":"upper"}}},
{"transform":[{"filter":"isValid(datum.upper)"}],"mark":{"type":"tick","color":"black","size":8,"thickness":1.5},"encoding":{"y":{"field":"upper","type":"quantitative","scale":{"domain":[0,15],"nice":false}}}},
{"transform":[{"filter":"!isValid(datum.upper)"}],"mark":{"type":"circle","color":"black","size":22,"opacity":1}}]}
]}
],"spacing":123,"bounds":"flush","resolve":{"scale":{"fill":"independent","opacity":"independent","xOffset":"independent"},"legend":{"fill":"independent","opacity":"independent"}}},

{"hconcat":[
{"width":150,"height":155,"title":{"text":"G","dx":-60,"offset":-6},"data":{"name":"obs"},"transform":[{"filter":"datum.panel=='G'"}],
"encoding":{"x":{"field":"day","type":"nominal","scale":{"domain":["0","1","3","7"],"paddingInner":0.184,"paddingOuter":0.13,"align":0},"axis":{"title":"Days post-infection (dpi)"}},
"y":{"field":"value","type":"quantitative","stack":null,"scale":{"domain":[0,60],"nice":false},"axis":{"values":[0,20,40,60],"title":"CD80⁺ (%)"}}},
"layer":[
{"transform":[{"filter":"datum.day!='0'"}],"encoding":{"xOffset":{"field":"group","type":"nominal","scale":{"domain":["uninf","SE-inf"],"paddingInner":0,"paddingOuter":0}}},"layer":[
{"transform":[{"filter":"isValid(datum.upper)"}],"mark":{"type":"bar","stroke":"black","strokeWidth":2},"encoding":{"fill":{"field":"group","type":"nominal","scale":{"domain":["uninf","SE-inf"],"range":["white","#5b5b5b"]},"legend":null}}},
{"transform":[{"filter":"isValid(datum.upper)"}],"mark":{"type":"tick","orient":"vertical","color":"black","size":5,"thickness":1.5,"yOffset":3},"encoding":{"y":{"datum":0}}},
{"transform":[{"filter":"isValid(datum.upper)"}],"mark":{"type":"rule","color":"black","strokeWidth":1.5},"encoding":{"y2":{"field":"upper"}}},
{"transform":[{"filter":"isValid(datum.upper)"}],"mark":{"type":"tick","color":"black","size":8,"thickness":1.5},"encoding":{"y":{"field":"upper","type":"quantitative","scale":{"domain":[0,60],"nice":false}}}},
{"transform":[{"filter":"!isValid(datum.upper)"}],"mark":{"type":"circle","color":"black","size":22,"opacity":1}}]},
{"transform":[{"filter":"datum.day=='0'"}],"layer":[
{"transform":[{"filter":"isValid(datum.upper)"}],"mark":{"type":"bar","fill":"white","stroke":"black","strokeWidth":2,"width":{"band":0.5}}},
{"transform":[{"filter":"isValid(datum.upper)"}],"mark":{"type":"tick","orient":"vertical","color":"black","size":5,"thickness":1.5,"yOffset":3},"encoding":{"y":{"datum":0}}},
{"transform":[{"filter":"isValid(datum.upper)"}],"mark":{"type":"rule","color":"black","strokeWidth":1.5},"encoding":{"y2":{"field":"upper"}}},
{"transform":[{"filter":"isValid(datum.upper)"}],"mark":{"type":"tick","color":"black","size":8,"thickness":1.5},"encoding":{"y":{"field":"upper","type":"quantitative","scale":{"domain":[0,60],"nice":false}}}},
{"transform":[{"filter":"!isValid(datum.upper)"}],"mark":{"type":"circle","color":"black","size":22,"opacity":1}}]},
{"data":{"name":"sig"},"transform":[{"filter":"datum.panel=='G'"}],"mark":{"type":"tick","color":"black","size":17,"thickness":2}},
{"data":{"name":"sig"},"transform":[{"filter":"datum.panel=='G' && !isValid(datum.prefix)"}],"mark":{"type":"text","baseline":"alphabetic","dy":2,"fontSize":13},"encoding":{"text":{"field":"label"}}},
{"data":{"name":"sig"},"transform":[{"filter":"datum.panel=='G' && isValid(datum.prefix)"}],"mark":{"type":"text","align":"left","baseline":"alphabetic","dx":-8,"dy":-4,"fontSize":13},"encoding":{"text":{"field":"label"}}},
{"data":{"name":"sig"},"transform":[{"filter":"datum.panel=='G' && isValid(datum.prefix)"}],"mark":{"type":"text","align":"right","baseline":"alphabetic","dx":-12,"dy":-4,"fontSize":13,"fontStyle":"italic"},"encoding":{"text":{"field":"prefix"}}}
]},
{"width":156,"height":155,"title":{"text":"H","dx":-44,"offset":-6},"data":{"name":"obs"},"transform":[{"filter":"datum.panel=='H'"}],
"encoding":{"x":{"field":"day","type":"nominal","scale":{"domain":["0","1","3","7"],"paddingInner":0.184,"paddingOuter":0.13,"align":0},"axis":{"title":"Days post-infection (dpi)"}},
"y":{"field":"value","type":"quantitative","stack":null,"scale":{"domain":[0,80],"nice":false},"axis":{"values":[0,20,40,60,80],"title":"CD80⁺ (%)"}}},
"layer":[
{"transform":[{"filter":"datum.day!='0'"}],"encoding":{"xOffset":{"field":"group","type":"nominal","scale":{"domain":["uninf","SE-inf"],"paddingInner":0,"paddingOuter":0}}},"layer":[
{"transform":[{"filter":"isValid(datum.upper)"}],"mark":{"type":"bar","stroke":"black","strokeWidth":2},"encoding":{"fill":{"field":"group","type":"nominal","scale":{"domain":["uninf","SE-inf"],"range":["white","#5b5b5b"]},"legend":null}}},
{"transform":[{"filter":"isValid(datum.upper)"}],"mark":{"type":"tick","orient":"vertical","color":"black","size":5,"thickness":1.5,"yOffset":3},"encoding":{"y":{"datum":0}}},
{"transform":[{"filter":"isValid(datum.upper)"}],"mark":{"type":"rule","color":"black","strokeWidth":1.5},"encoding":{"y2":{"field":"upper"}}},
{"transform":[{"filter":"isValid(datum.upper)"}],"mark":{"type":"tick","color":"black","size":8,"thickness":1.5},"encoding":{"y":{"field":"upper","type":"quantitative","scale":{"domain":[0,80],"nice":false}}}},
{"transform":[{"filter":"!isValid(datum.upper)"}],"mark":{"type":"circle","color":"black","size":22,"opacity":1}}]},
{"transform":[{"filter":"datum.day=='0'"}],"layer":[
{"transform":[{"filter":"isValid(datum.upper)"}],"mark":{"type":"bar","fill":"white","stroke":"black","strokeWidth":2,"width":{"band":0.5}}},
{"transform":[{"filter":"isValid(datum.upper)"}],"mark":{"type":"tick","orient":"vertical","color":"black","size":5,"thickness":1.5,"yOffset":3},"encoding":{"y":{"datum":0}}},
{"transform":[{"filter":"isValid(datum.upper)"}],"mark":{"type":"rule","color":"black","strokeWidth":1.5},"encoding":{"y2":{"field":"upper"}}},
{"transform":[{"filter":"isValid(datum.upper)"}],"mark":{"type":"tick","color":"black","size":8,"thickness":1.5},"encoding":{"y":{"field":"upper","type":"quantitative","scale":{"domain":[0,80],"nice":false}}}},
{"transform":[{"filter":"!isValid(datum.upper)"}],"mark":{"type":"circle","color":"black","size":22,"opacity":1}}]},
{"data":{"name":"sig"},"transform":[{"filter":"datum.panel=='H'"}],"mark":{"type":"tick","color":"black","size":17,"thickness":2}},
{"data":{"name":"sig"},"transform":[{"filter":"datum.panel=='H' && !isValid(datum.prefix)"}],"mark":{"type":"text","baseline":"alphabetic","dy":2,"fontSize":13},"encoding":{"text":{"field":"label"}}}
]},
{"width":155,"height":155,"title":{"text":"I","dx":-46,"offset":-6},"data":{"name":"obs"},"transform":[{"filter":"datum.panel=='I'"}],
"encoding":{"x":{"field":"day","type":"nominal","scale":{"domain":["0","1","3","7"],"paddingInner":0.184,"paddingOuter":0.13,"align":0},"axis":{"title":"Days post-infection (dpi)"}},
"y":{"field":"value","type":"quantitative","stack":null,"scale":{"domain":[0,15],"nice":false},"axis":{"values":[0,5,10,15],"title":"CD80⁺ (%)"}}},
"layer":[
{"transform":[{"filter":"datum.day!='0'"}],"encoding":{"xOffset":{"field":"group","type":"nominal","scale":{"domain":["uninf","SE-inf"],"paddingInner":0,"paddingOuter":0}}},"layer":[
{"transform":[{"filter":"isValid(datum.upper)"}],"mark":{"type":"bar","stroke":"black","strokeWidth":2},"encoding":{"fill":{"field":"group","type":"nominal","scale":{"domain":["uninf","SE-inf"],"range":["white","#5b5b5b"]},"legend":null}}},
{"transform":[{"filter":"isValid(datum.upper)"}],"mark":{"type":"tick","orient":"vertical","color":"black","size":5,"thickness":1.5,"yOffset":3},"encoding":{"y":{"datum":0}}},
{"transform":[{"filter":"isValid(datum.upper)"}],"mark":{"type":"rule","color":"black","strokeWidth":1.5},"encoding":{"y2":{"field":"upper"}}},
{"transform":[{"filter":"isValid(datum.upper)"}],"mark":{"type":"tick","color":"black","size":8,"thickness":1.5},"encoding":{"y":{"field":"upper","type":"quantitative","scale":{"domain":[0,15],"nice":false}}}},
{"transform":[{"filter":"!isValid(datum.upper)"}],"mark":{"type":"circle","color":"black","size":22,"opacity":1}}]},
{"transform":[{"filter":"datum.day=='0'"}],"layer":[
{"transform":[{"filter":"isValid(datum.upper)"}],"mark":{"type":"bar","fill":"white","stroke":"black","strokeWidth":2,"width":{"band":0.5}}},
{"transform":[{"filter":"isValid(datum.upper)"}],"mark":{"type":"tick","orient":"vertical","color":"black","size":5,"thickness":1.5,"yOffset":3},"encoding":{"y":{"datum":0}}},
{"transform":[{"filter":"isValid(datum.upper)"}],"mark":{"type":"rule","color":"black","strokeWidth":1.5},"encoding":{"y2":{"field":"upper"}}},
{"transform":[{"filter":"isValid(datum.upper)"}],"mark":{"type":"tick","color":"black","size":8,"thickness":1.5},"encoding":{"y":{"field":"upper","type":"quantitative","scale":{"domain":[0,15],"nice":false}}}},
{"transform":[{"filter":"!isValid(datum.upper)"}],"mark":{"type":"circle","color":"black","size":22,"opacity":1}}]},
{"data":{"name":"sig"},"transform":[{"filter":"datum.panel=='I'"}],"mark":{"type":"tick","color":"black","size":17,"thickness":2}},
{"data":{"name":"sig"},"transform":[{"filter":"datum.panel=='I' && isValid(datum.prefix)"}],"mark":{"type":"text","align":"left","baseline":"alphabetic","dx":-9,"dy":-4,"fontSize":13},"encoding":{"text":{"field":"label"}}},
{"data":{"name":"sig"},"transform":[{"filter":"datum.panel=='I' && isValid(datum.prefix)"}],"mark":{"type":"text","align":"right","baseline":"alphabetic","dx":-14,"dy":-4,"fontSize":13,"fontStyle":"italic"},"encoding":{"text":{"field":"prefix"}}}
]}
],"spacing":123,"bounds":"flush","resolve":{"scale":{"fill":"independent","opacity":"independent","xOffset":"independent"},"legend":{"fill":"independent","opacity":"independent"}}},

{"hconcat":[
{"width":166,"height":155,"title":{"text":"J","dx":-60,"offset":12},"data":{"name":"obs"},"transform":[{"filter":"datum.panel=='J'"}],
"encoding":{"x":{"field":"day","type":"nominal","scale":{"domain":["0","1","3","7"],"paddingInner":0.184,"paddingOuter":0.13,"align":0},"axis":{"title":"Days post-infection (dpi)"}},
"y":{"field":"value","type":"quantitative","stack":null,"scale":{"domain":[0,60000],"nice":false},"axis":{"values":[0,20000,40000,60000],"title":"MHC-II  (gMFI)","labelPadding":0,"titlePadding":1}}},
"layer":[
{"transform":[{"filter":"datum.day!='0'"}],"encoding":{"xOffset":{"field":"group","type":"nominal","scale":{"domain":["uninf","SE-inf"],"paddingInner":0,"paddingOuter":0}}},"layer":[
{"transform":[{"filter":"isValid(datum.upper)"}],"mark":{"type":"bar","stroke":"black","strokeWidth":2},"encoding":{"fill":{"field":"group","type":"nominal","scale":{"domain":["uninf","SE-inf"],"range":["white","#5b5b5b"]},"legend":null}}},
{"transform":[{"filter":"isValid(datum.upper)"}],"mark":{"type":"tick","orient":"vertical","color":"black","size":5,"thickness":1.5,"yOffset":3},"encoding":{"y":{"datum":0}}},
{"transform":[{"filter":"isValid(datum.upper)"}],"mark":{"type":"rule","color":"black","strokeWidth":1.5},"encoding":{"y2":{"field":"upper"}}},
{"transform":[{"filter":"isValid(datum.upper)"}],"mark":{"type":"tick","color":"black","size":8,"thickness":1.5},"encoding":{"y":{"field":"upper","type":"quantitative","scale":{"domain":[0,60000],"nice":false}}}},
{"transform":[{"filter":"!isValid(datum.upper)"}],"mark":{"type":"circle","color":"black","size":22,"opacity":1}}]},
{"transform":[{"filter":"datum.day=='0'"}],"layer":[
{"transform":[{"filter":"isValid(datum.upper)"}],"mark":{"type":"bar","fill":"white","stroke":"black","strokeWidth":2,"width":{"band":0.5}}},
{"transform":[{"filter":"isValid(datum.upper)"}],"mark":{"type":"tick","orient":"vertical","color":"black","size":5,"thickness":1.5,"yOffset":3},"encoding":{"y":{"datum":0}}},
{"transform":[{"filter":"isValid(datum.upper)"}],"mark":{"type":"rule","color":"black","strokeWidth":1.5},"encoding":{"y2":{"field":"upper"}}},
{"transform":[{"filter":"isValid(datum.upper)"}],"mark":{"type":"tick","color":"black","size":8,"thickness":1.5},"encoding":{"y":{"field":"upper","type":"quantitative","scale":{"domain":[0,60000],"nice":false}}}},
{"transform":[{"filter":"!isValid(datum.upper)"}],"mark":{"type":"circle","color":"black","size":22,"opacity":1}}]}
]},
{"width":156,"height":155,"title":{"text":"K","dx":-59,"offset":12},"data":{"name":"obs"},"transform":[{"filter":"datum.panel=='K'"}],
"encoding":{"x":{"field":"day","type":"nominal","scale":{"domain":["0","1","3","7"],"paddingInner":0.184,"paddingOuter":0.13,"align":0},"axis":{"title":"Days post-infection (dpi)"}},
"y":{"field":"value","type":"quantitative","stack":null,"scale":{"domain":[0,15000],"nice":false},"axis":{"values":[0,5000,10000,15000],"title":"MHC-II  (gMFI)"}}},
"layer":[
{"transform":[{"filter":"datum.day!='0'"}],"encoding":{"xOffset":{"field":"group","type":"nominal","scale":{"domain":["uninf","SE-inf"],"paddingInner":0,"paddingOuter":0}}},"layer":[
{"transform":[{"filter":"isValid(datum.upper)"}],"mark":{"type":"bar","stroke":"black","strokeWidth":2},"encoding":{"fill":{"field":"group","type":"nominal","scale":{"domain":["uninf","SE-inf"],"range":["white","#5b5b5b"]},"legend":null}}},
{"transform":[{"filter":"isValid(datum.upper)"}],"mark":{"type":"tick","orient":"vertical","color":"black","size":5,"thickness":1.5,"yOffset":3},"encoding":{"y":{"datum":0}}},
{"transform":[{"filter":"isValid(datum.upper)"}],"mark":{"type":"rule","color":"black","strokeWidth":1.5},"encoding":{"y2":{"field":"upper"}}},
{"transform":[{"filter":"isValid(datum.upper)"}],"mark":{"type":"tick","color":"black","size":8,"thickness":1.5},"encoding":{"y":{"field":"upper","type":"quantitative","scale":{"domain":[0,15000],"nice":false}}}},
{"transform":[{"filter":"!isValid(datum.upper)"}],"mark":{"type":"circle","color":"black","size":22,"opacity":1}}]},
{"transform":[{"filter":"datum.day=='0'"}],"layer":[
{"transform":[{"filter":"isValid(datum.upper)"}],"mark":{"type":"bar","fill":"white","stroke":"black","strokeWidth":2,"width":{"band":0.5}}},
{"transform":[{"filter":"isValid(datum.upper)"}],"mark":{"type":"tick","orient":"vertical","color":"black","size":5,"thickness":1.5,"yOffset":3},"encoding":{"y":{"datum":0}}},
{"transform":[{"filter":"isValid(datum.upper)"}],"mark":{"type":"rule","color":"black","strokeWidth":1.5},"encoding":{"y2":{"field":"upper"}}},
{"transform":[{"filter":"isValid(datum.upper)"}],"mark":{"type":"tick","color":"black","size":8,"thickness":1.5},"encoding":{"y":{"field":"upper","type":"quantitative","scale":{"domain":[0,15000],"nice":false}}}},
{"transform":[{"filter":"!isValid(datum.upper)"}],"mark":{"type":"circle","color":"black","size":22,"opacity":1}}]}
]},
{"width":146,"height":155,"title":{"text":"L","dx":-53,"offset":12},"data":{"name":"obs"},"transform":[{"filter":"datum.panel=='L'"}],
"encoding":{"x":{"field":"day","type":"nominal","scale":{"domain":["0","1","3","7"],"paddingInner":0.184,"paddingOuter":0.13,"align":0},"axis":{"title":"Days post-infection (dpi)"}},
"y":{"field":"value","type":"quantitative","stack":null,"scale":{"domain":[0,6000],"nice":false},"axis":{"values":[0,2000,4000,6000],"title":"MHC-II  (gMFI)"}}},
"layer":[
{"transform":[{"filter":"datum.day!='0'"}],"encoding":{"xOffset":{"field":"group","type":"nominal","scale":{"domain":["uninf","SE-inf"],"paddingInner":0,"paddingOuter":0}}},"layer":[
{"transform":[{"filter":"isValid(datum.upper)"}],"mark":{"type":"bar","stroke":"black","strokeWidth":2},"encoding":{"fill":{"field":"group","type":"nominal","scale":{"domain":["uninf","SE-inf"],"range":["white","#5b5b5b"]},"legend":null}}},
{"transform":[{"filter":"isValid(datum.upper)"}],"mark":{"type":"tick","orient":"vertical","color":"black","size":5,"thickness":1.5,"yOffset":3},"encoding":{"y":{"datum":0}}},
{"transform":[{"filter":"isValid(datum.upper)"}],"mark":{"type":"rule","color":"black","strokeWidth":1.5},"encoding":{"y2":{"field":"upper"}}},
{"transform":[{"filter":"isValid(datum.upper)"}],"mark":{"type":"tick","color":"black","size":8,"thickness":1.5},"encoding":{"y":{"field":"upper","type":"quantitative","scale":{"domain":[0,6000],"nice":false}}}},
{"transform":[{"filter":"!isValid(datum.upper)"}],"mark":{"type":"circle","color":"black","size":22,"opacity":1}}]},
{"transform":[{"filter":"datum.day=='0'"}],"layer":[
{"transform":[{"filter":"isValid(datum.upper)"}],"mark":{"type":"bar","fill":"white","stroke":"black","strokeWidth":2,"width":{"band":0.5}}},
{"transform":[{"filter":"isValid(datum.upper)"}],"mark":{"type":"tick","orient":"vertical","color":"black","size":5,"thickness":1.5,"yOffset":3},"encoding":{"y":{"datum":0}}},
{"transform":[{"filter":"isValid(datum.upper)"}],"mark":{"type":"rule","color":"black","strokeWidth":1.5},"encoding":{"y2":{"field":"upper"}}},
{"transform":[{"filter":"isValid(datum.upper)"}],"mark":{"type":"tick","color":"black","size":8,"thickness":1.5},"encoding":{"y":{"field":"upper","type":"quantitative","scale":{"domain":[0,6000],"nice":false}}}},
{"transform":[{"filter":"!isValid(datum.upper)"}],"mark":{"type":"circle","color":"black","size":22,"opacity":1}}]},
{"data":{"name":"sig"},"transform":[{"filter":"datum.panel=='L'"}],"mark":{"type":"tick","color":"black","size":17,"thickness":2}},
{"data":{"name":"sig"},"transform":[{"filter":"datum.panel=='L' && !isValid(datum.prefix)"}],"mark":{"type":"text","baseline":"alphabetic","dy":2,"fontSize":13},"encoding":{"text":{"field":"label"}}}
]}
],"spacing":117,"bounds":"flush","resolve":{"scale":{"fill":"independent","opacity":"independent","xOffset":"independent"},"legend":{"fill":"independent","opacity":"independent"}}}
],
"config":{
"view":{"stroke":null},
"font":"Liberation Sans",
"axis":{"domainColor":"black","domainWidth":1.5,"tickColor":"black","tickWidth":1.5,"tickSize":5,"labelColor":"black","labelFont":"Liberation Sans","labelFontSize":12.5,"labelFontWeight":"bold","labelPadding":2,"titleColor":"black","titleFont":"Liberation Sans","titleFontWeight":"bold","grid":false,"format":"d"},
"axisX":{"labelAngle":0,"titleFontSize":16,"titlePadding":4,"tickColor":"transparent"},
"axisY":{"titleFontSize":16.5,"titlePadding":3,"labelPadding":1},
"title":{"anchor":"start","frame":"group","fontSize":23,"fontWeight":"bold","font":"Liberation Sans","color":"black"},
"text":{"font":"Liberation Sans","color":"black"}
}
}
